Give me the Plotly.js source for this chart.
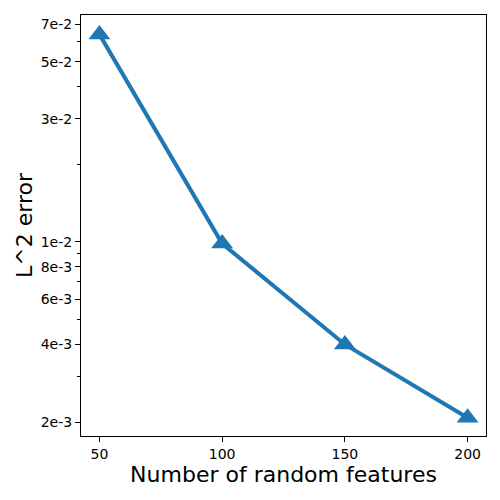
<!DOCTYPE html>
<html>
<head>
<meta charset="utf-8">
<script src="https://cdn.plot.ly/plotly-3.0.1.min.js"></script>
<style>html,body{margin:0;padding:0;background:#fff;}#chart{width:500px;height:500px;}</style>
</head>
<body>
<div id="chart"></div>
<script>
const features = [50, 100, 150, 200];
const l2Error = [0.0638, 0.00985, 0.0040, 0.00208];
const yTickVals = [0.002, 0.004, 0.006, 0.008, 0.01, 0.03, 0.05, 0.07];
const yTickText = ['2e-3', '4e-3', '6e-3', '8e-3', '1e-2', '3e-2', '5e-2', '7e-2'];
const yMinorVals = [0.003, 0.005, 0.007, 0.009, 0.02, 0.04, 0.06];
const xTickVals = [50, 100, 150, 200];

const trace = {
  x: features,
  y: l2Error,
  type: 'scatter',
  mode: 'lines+markers',
  line: {color: '#1f77b4', width: 4},
  marker: {symbol: 'triangle-up', size: 19, color: '#1f77b4'},
  cliponaxis: false,
  showlegend: false
};

const font = {family: 'DejaVu Sans', color: '#000'};

const layout = {
  width: 500, height: 500,
  margin: {l: 81, r: 14, t: 15, b: 64},
  paper_bgcolor: '#fff', plot_bgcolor: '#fff',
  font: font,
  xaxis: {
    range: [42.5, 207.5],
    tickmode: 'array', tickvals: xTickVals,
    ticks: 'outside', ticklen: 5, tickwidth: 1, tickcolor: '#000',
    tickfont: {family: 'DejaVu Sans', size: 14, color: '#000'},
    showgrid: false, zeroline: false,
    showline: true, linecolor: '#000', linewidth: 1, mirror: true,
    title: {text: 'Number of random features', font: {family: 'DejaVu Sans', size: 22, color: '#000'}, standoff: 4},
    automargin: false
  },
  yaxis: {
    type: 'log',
    range: [-2.753, -1.120],
    tickmode: 'array', tickvals: yTickVals, ticktext: yTickText,
    ticks: 'outside', ticklen: 5, tickwidth: 1, tickcolor: '#000',
    tickfont: {family: 'DejaVu Sans', size: 14, color: '#000'},
    minor: {tickmode: 'array', tickvals: yMinorVals, ticks: 'outside', ticklen: 3, tickwidth: 1, tickcolor: '#000', showgrid: false},
    showgrid: false, zeroline: false,
    showline: true, linecolor: '#000', linewidth: 1, mirror: true,
    title: {text: 'L^2 error', font: {family: 'DejaVu Sans', size: 22, color: '#000'}, standoff: 2},
    automargin: false
  }
};

Plotly.newPlot('chart', [trace], layout, {staticPlot: true, displayModeBar: false});
</script>
</body>
</html>
